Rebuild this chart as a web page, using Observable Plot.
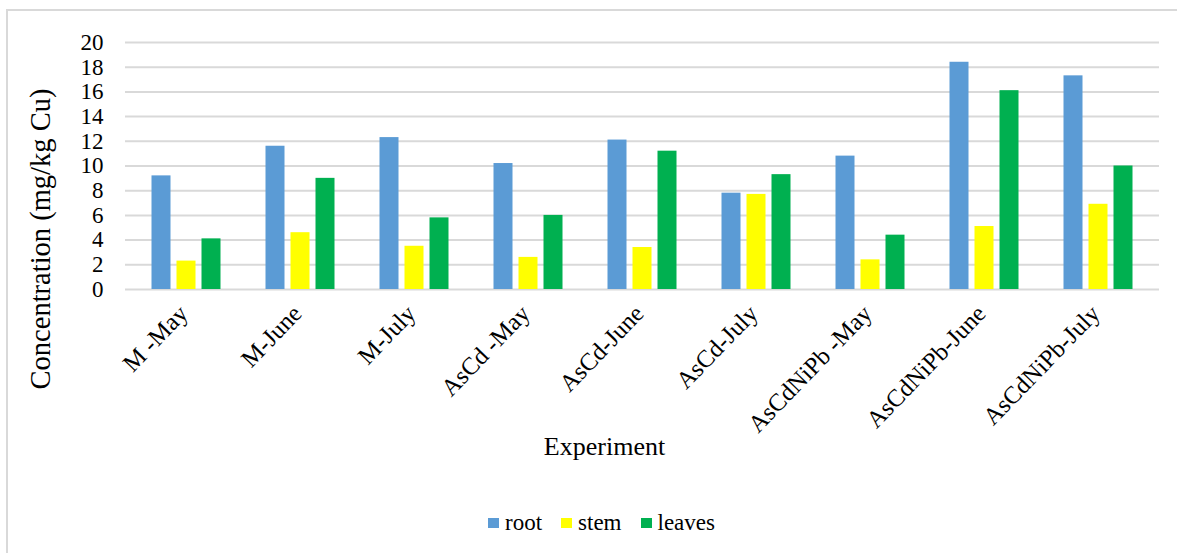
<!DOCTYPE html>
<html>
<head>
<meta charset="utf-8">
<script src="https://cdn.jsdelivr.net/npm/d3@7"></script>
<script src="https://cdn.jsdelivr.net/npm/@observablehq/plot@0.6"></script>
<style>
  html, body { margin: 0; padding: 0; background: #fff; }
  #wrap { position: relative; width: 1177px; height: 553px; overflow: hidden; font-family: "Liberation Serif", "Times New Roman", serif; }
  #frame { position: absolute; left: 6px; top: 9px; width: 1200px; height: 600px; border-left: 2px solid #d9d9d9; border-top: 2px solid #d9d9d9; box-sizing: border-box; }
  #chart { position: absolute; left: 0; top: 0; }
  #legend { position: absolute; left: 488px; top: 508px; height: 30px; display: flex; align-items: center; gap: 19px; font-family: "Liberation Serif", "Times New Roman", serif !important; font-size: 23px; color: #000; white-space: nowrap; }
  #legend .item { display: flex; align-items: center; gap: 6px; }
  #legend .lbl { font-family: "Liberation Serif", "Times New Roman", serif !important; }
  #legend .sw { width: 11px; height: 10px; display: inline-block; }
</style>
</head>
<body>
<div id="wrap">
  <div id="frame"></div>
  <div id="chart"></div>
  <div id="legend"></div>
</div>
<script>
const categories = ["M -May", "M-June", "M-July", "AsCd -May", "AsCd-June", "AsCd-July", "AsCdNiPb -May", "AsCdNiPb-June", "AsCdNiPb-July"];
const seriesNames = ["root", "stem", "leaves"];
const seriesColors = ["#5B9BD5", "#FFFF00", "#00B050"];
const root = [9.2, 11.6, 12.3, 10.2, 12.1, 7.8, 10.8, 18.4, 17.3];
const stem = [2.3, 4.6, 3.5, 2.6, 3.4, 7.7, 2.4, 5.1, 6.9];
const leaves = [4.1, 9.0, 5.8, 6.0, 11.2, 9.3, 4.4, 16.1, 10.0];
const yTicks = [0, 2, 4, 6, 8, 10, 12, 14, 16, 18, 20];
const xTitle = "Experiment";
const yTitle = "Concentration (mg/kg Cu)";

const seriesValues = [root, stem, leaves];
const offsets = [-25, 0, 25];
const barMarks = seriesValues.map((vals, i) =>
  Plot.barY(categories.map((c, j) => ({cat: c, v: vals[j]})), {
    x: "cat", y: "v", fill: seriesColors[i], dx: offsets[i],
    insetLeft: 47.5, insetRight: 47.5
  })
);

const chart = Plot.plot({
  width: 1177,
  height: 470,
  marginLeft: 125,
  marginRight: 18,
  marginTop: 42,
  marginBottom: 181,
  style: { fontFamily: "'Liberation Serif', 'Times New Roman', serif", fontSize: "23px", color: "#000", background: "transparent" },
  x: { domain: categories, padding: 0, label: null },
  y: { domain: [0, 20], label: null },
  marks: [
    Plot.ruleY(yTicks, { stroke: "#d9d9d9", strokeWidth: 2 }),
    ...barMarks,
    Plot.axisY(yTicks, { tickSize: 0, tickPadding: 22, fontSize: 23, label: null }),
    Plot.axisX({ tickSize: 0, tickRotate: -46, tickPadding: 20, fontSize: 24.5, label: null, dx: -3 }),
    Plot.text([xTitle], { frameAnchor: "bottom", dy: 165, dx: -38, fontSize: 26 }),
    Plot.text([yTitle], { frameAnchor: "left", textAnchor: "middle", rotate: -90, dx: -85, dy: 73, fontSize: 28.5 })
  ]
});
document.getElementById("chart").appendChild(chart);

const legend = document.getElementById("legend");
seriesNames.forEach((name, i) => {
  const item = document.createElement("span");
  item.className = "item";
  const sw = document.createElement("span");
  sw.className = "sw";
  sw.style.background = seriesColors[i];
  const label = document.createElement("span");
  label.className = "lbl";
  label.textContent = name;
  item.appendChild(sw);
  item.appendChild(label);
  legend.appendChild(item);
});
</script>
</body>
</html>
